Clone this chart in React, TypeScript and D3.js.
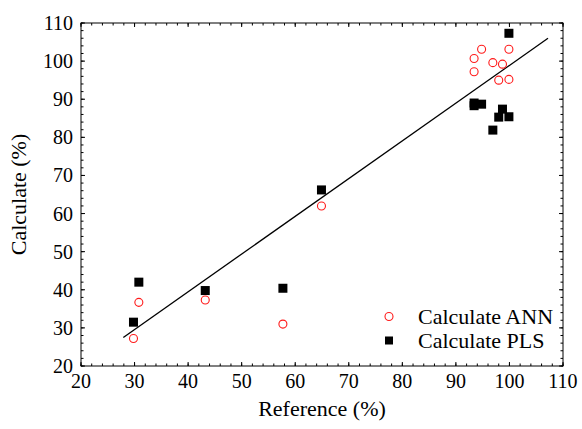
import React, { useEffect, useRef } from 'react';
import * as d3 from 'd3';

// Reference values (x) shared by both models
const referenceValues = [29.8, 30.8, 43.2, 57.7, 64.9, 93.4, 93.4, 94.8, 96.9, 98.0, 98.7, 99.9, 99.9];
// Calculated values per model
const annValues = [27.2, 36.7, 37.3, 31.0, 62.0, 100.7, 97.2, 103.1, 99.6, 95.0, 99.2, 103.1, 95.2];
const plsValues = [31.5, 42.0, 39.8, 40.4, 66.2, 88.3, 89.0, 88.7, 81.9, 85.3, 87.4, 107.3, 85.4];
// Regression line end points
const fitX = [27.9, 107.2];
const fitY = [27.5, 106.0];
const tickValues = [20, 30, 40, 50, 60, 70, 80, 90, 100, 110];
const legendLabels = ['Calculate ANN', 'Calculate PLS'];

const App = () => {
  const svgRef = useRef<SVGSVGElement>(null);

  useEffect(() => {
    const width = 582;
    const height = 429;
    const margin = { top: 23, right: 19, bottom: 63, left: 81 };
    const font = "'Liberation Serif', Tinos, 'Times New Roman', Times, 'DejaVu Serif', serif";

    const svg = d3.select(svgRef.current)
      .attr('width', width)
      .attr('height', height)
      .style('background', '#fff');

    svg.selectAll('*').remove();

    const x = d3.scaleLinear().domain([20, 110]).range([margin.left, width - margin.right]);
    const y = d3.scaleLinear().domain([20, 110]).range([height - margin.bottom, margin.top]);

    const minor = d3.range(20, 110.01, 2);

    // Inward ticks on all four sides
    const drawTicks = (vals: number[], len: number) => {
      vals.forEach(v => {
        svg.append('line').attr('x1', x(v)).attr('x2', x(v))
          .attr('y1', y(20)).attr('y2', y(20) - len).attr('stroke', '#000');
        svg.append('line').attr('x1', x(v)).attr('x2', x(v))
          .attr('y1', y(110)).attr('y2', y(110) + len).attr('stroke', '#000');
        svg.append('line').attr('y1', y(v)).attr('y2', y(v))
          .attr('x1', x(20)).attr('x2', x(20) + len).attr('stroke', '#000');
        svg.append('line').attr('y1', y(v)).attr('y2', y(v))
          .attr('x1', x(110)).attr('x2', x(110) - len).attr('stroke', '#000');
      });
    };
    drawTicks(minor, 2.5);
    drawTicks(tickValues, 4);

    // Frame
    svg.append('rect')
      .attr('x', x(20)).attr('y', y(110))
      .attr('width', x(110) - x(20)).attr('height', y(20) - y(110))
      .attr('fill', 'none').attr('stroke', '#000').attr('stroke-width', 1);

    // Tick labels
    svg.selectAll('.xlab').data(tickValues).enter().append('text')
      .attr('x', d => x(d)).attr('y', y(20) + 22)
      .attr('text-anchor', 'middle')
      .style('font-family', font).style('font-size', '20px')
      .text(d => d);

    svg.selectAll('.ylab').data(tickValues).enter().append('text')
      .attr('x', x(20) - 8).attr('y', d => y(d) + 7)
      .attr('text-anchor', 'end')
      .style('font-family', font).style('font-size', '20px')
      .text(d => d);

    // Axis titles
    svg.append('text')
      .attr('x', (x(20) + x(110)) / 2).attr('y', 416)
      .attr('text-anchor', 'middle')
      .style('font-family', font).style('font-size', '22px')
      .text('Reference (%)');

    svg.append('text')
      .attr('transform', `translate(26, ${(y(20) + y(110)) / 2}) rotate(-90)`)
      .attr('text-anchor', 'middle')
      .style('font-family', font).style('font-size', '22px')
      .text('Calculate (%)');

    // Regression line
    svg.append('line')
      .attr('x1', x(fitX[0])).attr('y1', y(fitY[0]))
      .attr('x2', x(fitX[1])).attr('y2', y(fitY[1]))
      .attr('stroke', '#000').attr('stroke-width', 1.3);

    // PLS squares
    const sq = 9;
    svg.selectAll('.pls').data(referenceValues).enter().append('rect')
      .attr('x', (d) => x(d) - sq / 2)
      .attr('y', (d, i) => y(plsValues[i]) - sq / 2)
      .attr('width', sq).attr('height', sq)
      .attr('fill', '#000');

    // ANN circles
    svg.selectAll('.ann').data(referenceValues).enter().append('circle')
      .attr('cx', d => x(d))
      .attr('cy', (d, i) => y(annValues[i]))
      .attr('r', 4)
      .attr('fill', 'none').attr('stroke', '#ff1a1a').attr('stroke-width', 1.1);

    // Legend
    svg.append('circle')
      .attr('cx', 389).attr('cy', 316.5).attr('r', 4)
      .attr('fill', 'none').attr('stroke', '#ff1a1a').attr('stroke-width', 1.1);
    svg.append('rect')
      .attr('x', 389 - 4).attr('y', 340.5 - 4).attr('width', 8).attr('height', 8)
      .attr('fill', '#000');
    legendLabels.forEach((l, i) => {
      svg.append('text')
        .attr('x', 418).attr('y', 324 + i * 24)
        .style('font-family', font).style('font-size', '22px')
        .text(l);
    });
  }, []);

  return <svg ref={svgRef} style={{ position: 'absolute', left: 0, top: 0 }}></svg>;
};

export default App;
